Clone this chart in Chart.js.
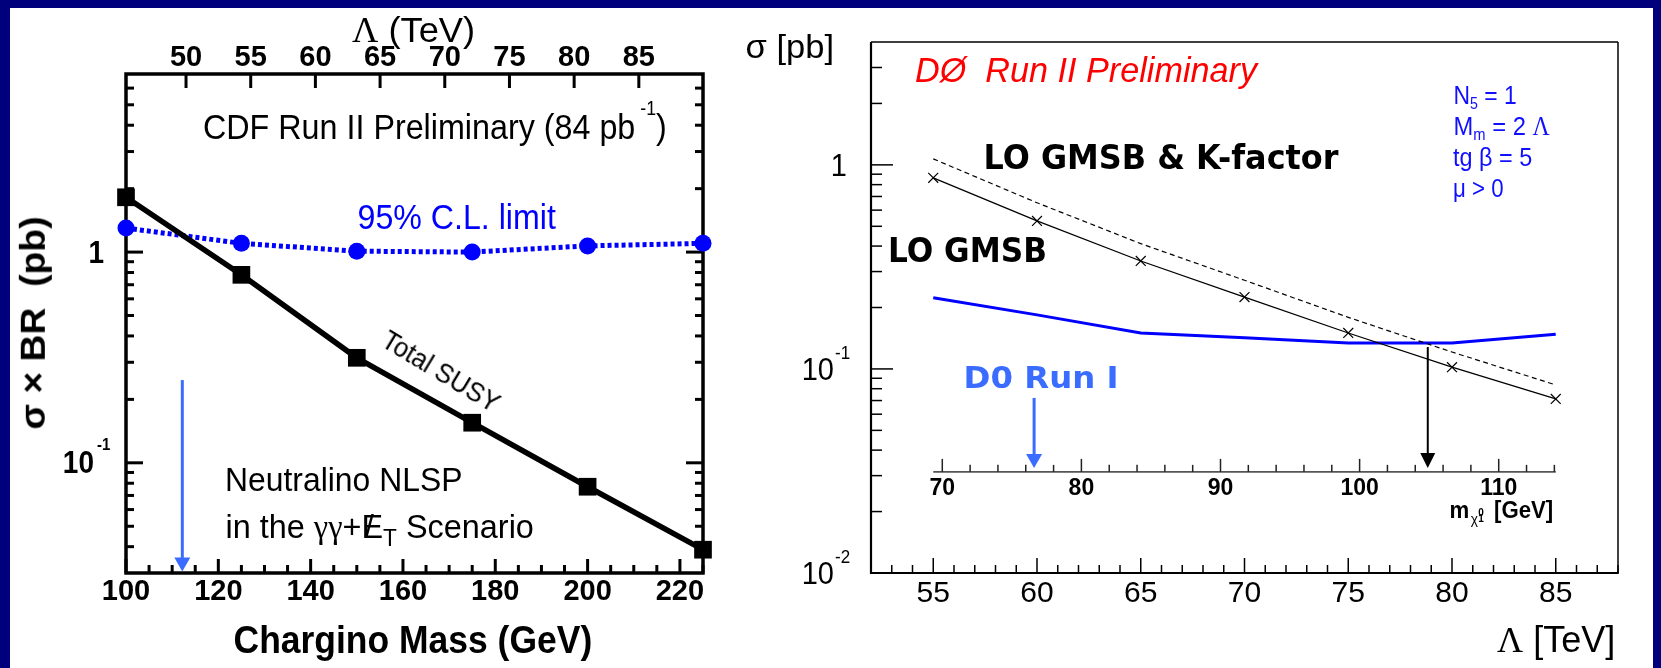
<!DOCTYPE html>
<html><head><meta charset="utf-8">
<script src="https://cdn.jsdelivr.net/npm/chart.js@4.4.1/dist/chart.umd.min.js"></script>
<style>
html,body{margin:0;padding:0;}
body{width:1661px;height:668px;background:#00007c;position:relative;overflow:hidden;font-family:"Liberation Sans",Arial,sans-serif;}
#panel{position:absolute;left:10px;top:8px;width:1643px;height:660px;background:#fff;}
canvas{position:absolute;}
#cL{left:10px;top:8px;}
#cR{left:720px;top:8px;}
.t{position:absolute;white-space:nowrap;line-height:1;transform-origin:50% 50%;}
.sup{font-size:0.55em;position:relative;top:-0.9em;}
.sub{font-size:0.62em;position:relative;top:0.35em;}
.serif{font-family:"Liberation Serif","Times New Roman",serif;}
</style></head>
<body>
<div id="panel"></div>
<canvas id="cL" width="710" height="660"></canvas>
<canvas id="cR" width="933" height="660"></canvas>
<div id="labels"></div>
<script>
// ================= DATA =================
// ---- CDF panel (left) ----
const cdfMass        = [100, 125, 150, 175, 200, 225];            // chargino mass (GeV)
const cdfTotalSusy   = [1.82, 0.78, 0.315, 0.155, 0.077, 0.0387]; // sigma x BR (pb)
const cdfLimit95     = [1.30, 1.10, 1.01, 1.00, 1.07, 1.10];      // 95% C.L. limit (pb)
const cdfMassTicks   = [100, 120, 140, 160, 180, 200, 220];
const cdfLambdaTicks = [50, 55, 60, 65, 70, 75, 80, 85];
const cdfYTicks      = [1, 0.1];
const cdfMassRange   = [100, 225];
const cdfLambdaRange = [45.36, 89.96];   // Lambda (TeV) at the ends of the mass range
const cdfSigmaRange  = [0.03, 7];
const cdfRun1Arrow   = [112.2, 0.247, 0.0305]; // chargino mass, sigma from, sigma to

// ---- D0 panel (right) ----
const d0Lambda       = [55, 60, 65, 70, 75, 80, 85];               // Lambda (TeV)
const d0LoGmsb       = [0.864, 0.531, 0.338, 0.225, 0.150, 0.102, 0.0713];
const d0LoGmsbK      = [1.07, 0.652, 0.411, 0.272, 0.179, 0.121, 0.0835];
const d0Run1Limit    = [0.223, 0.184, 0.150, 0.142, 0.134, 0.134, 0.148];
const d0LambdaTicks  = [55, 60, 65, 70, 75, 80, 85];
const d0MassTicks    = [70, 80, 90, 100, 110];
const d0YTicks       = [1, 0.1, 0.01];
const d0LambdaRange  = [52, 88];
const d0SigmaRange   = [0.01, 4];
const d0MassAxisLambda = [55, 85];      // inner neutralino-mass axis spans these Lambda values
const d0MassAxisMass   = [69.35, 114.1]; // neutralino mass (GeV) at those Lambda values
const d0MassAxisSigma  = 0.0313;         // sigma level where the inner axis sits
const d0Run1Arrow    = [76.6, 0.0721, 0.0327];  // neutralino mass, sigma from, sigma to
const d0Run2Arrow    = [104.9, 0.128, 0.0327];

// ================= HELPERS =================
const SANS = '"Liberation Sans", Arial, sans-serif';
const pts = (xs, ys) => xs.map((v, i) => ({x: v, y: ys[i]}));
function logMinorValues(min, max) {
  const out = [];
  for (let e = -4; e <= 2; e++) for (let k = 1; k <= 9; k++) {
    const v = k * Math.pow(10, e);
    if (v > min * 1.0001 && v < max * 0.9999) out.push({v, major: k === 1});
  }
  return out;
}
function hLine(ctx, x1, x2, y) { ctx.beginPath(); ctx.moveTo(x1, y); ctx.lineTo(x2, y); ctx.stroke(); }
function vLine(ctx, x, y1, y2) { ctx.beginPath(); ctx.moveTo(x, y1); ctx.lineTo(x, y2); ctx.stroke(); }
function arrowDown(ctx, x, y1, y2, color, lw, hw, hh) {
  ctx.save();
  ctx.strokeStyle = color; ctx.fillStyle = color; ctx.lineWidth = lw;
  vLine(ctx, x, y1, y2 - hh + 1);
  ctx.beginPath(); ctx.moveTo(x - hw / 2, y2 - hh); ctx.lineTo(x + hw / 2, y2 - hh); ctx.lineTo(x, y2); ctx.closePath(); ctx.fill();
  ctx.restore();
}
function logLabels(ctx, scale, values, o) {
  ctx.save(); ctx.fillStyle = '#000'; ctx.textBaseline = 'middle';
  values.forEach(v => {
    const py = scale.getPixelForValue(v);
    const e = Math.round(Math.log10(v));
    ctx.save(); ctx.translate(0, py + o.dy); ctx.scale(1, o.sy || 1);
    if (e === 0) {
      ctx.font = o.font; ctx.textAlign = 'right'; ctx.fillText('1', o.x1, 0);
    } else {
      ctx.font = o.font; ctx.textAlign = 'right'; ctx.fillText('10', o.x10, 0);
      ctx.font = o.supFont; ctx.textAlign = 'left'; ctx.fillText(String(e), o.xs, (o.sdy - o.dy) / (o.sy || 1));
    }
    ctx.restore();
  });
  ctx.restore();
}

// ================= LEFT CHART (CDF) =================
const cdfPlugin = {
  id: 'cdfFrame',
  beforeDatasetsDraw(chart) {
    const {ctx, chartArea: a, scales: {x, x2, y}} = chart;
    ctx.save(); ctx.strokeStyle = '#000'; ctx.lineWidth = 3;
    for (let m = cdfMassRange[0]; m <= cdfMassRange[1]; m += 5) {
      const len = cdfMassTicks.includes(m) ? 14 : 8;
      vLine(ctx, x.getPixelForValue(m), a.bottom, a.bottom - len);
    }
    cdfLambdaTicks.forEach(l => vLine(ctx, x2.getPixelForValue(l), a.top, a.top + 14));
    logMinorValues(cdfSigmaRange[0], cdfSigmaRange[1]).forEach(({v, major}) => {
      const py = y.getPixelForValue(v), len = major ? 17 : 8;
      hLine(ctx, a.left, a.left + len, py);
      hLine(ctx, a.right, a.right - len, py);
    });
    ctx.lineWidth = 3.5;
    ctx.strokeRect(a.left, a.top, a.right - a.left, a.bottom - a.top);
    ctx.restore();
    logLabels(ctx, y, cdfYTicks, {font: 'bold 28px ' + SANS, supFont: 'bold 15px ' + SANS, x1: 94, x10: 84, xs: 87, dy: 2, sdy: -17, sy: 1.12});
  },
  afterDatasetsDraw(chart) {
    const {ctx, scales: {x, y}} = chart;
    arrowDown(ctx, x.getPixelForValue(cdfRun1Arrow[0]), y.getPixelForValue(cdfRun1Arrow[1]), y.getPixelForValue(cdfRun1Arrow[2]), '#3a6cff', 3, 16, 14);
  }
};

new Chart(document.getElementById('cL'), {
  type: 'line',
  data: { datasets: [
    { label: 'Total SUSY', data: pts(cdfMass, cdfTotalSusy), xAxisID: 'x', yAxisID: 'y',
      borderColor: '#000', backgroundColor: '#000', borderWidth: 5.5, tension: 0,
      pointStyle: 'rect', pointRadius: 12.5, pointBorderWidth: 0, pointBackgroundColor: '#000', clip: false },
    { label: '95% C.L. limit', data: pts(cdfMass, cdfLimit95), xAxisID: 'x', yAxisID: 'y',
      borderColor: '#0000ff', backgroundColor: '#0000ff', borderWidth: 5, borderDash: [4, 3], tension: 0,
      pointStyle: 'circle', pointRadius: 8.5, pointBorderWidth: 0, pointBackgroundColor: '#0000ff', clip: false }
  ]},
  options: {
    responsive: false, animation: false, devicePixelRatio: 1, events: [],
    layout: { padding: { left: 0, right: 17, top: 0, bottom: 0 } },
    plugins: { legend: { display: false }, tooltip: { enabled: false }, title: { display: false } },
    scales: {
      x: { type: 'linear', position: 'bottom', min: cdfMassRange[0], max: cdfMassRange[1], bounds: 'data',
           afterBuildTicks: s => { s.ticks = cdfMassTicks.map(v => ({value: v})); },
           afterFit: s => { s.height = 95; },
           ticks: { autoSkip: false, maxRotation: 0, color: '#000', padding: 4, font: { family: SANS, size: 29, weight: 'bold', lineHeight: 1 } },
           grid: { display: false, drawTicks: false }, border: { display: false } },
      x2: { type: 'linear', axis: 'x', position: 'top', min: cdfLambdaRange[0], max: cdfLambdaRange[1], bounds: 'data',
           afterBuildTicks: s => { s.ticks = cdfLambdaTicks.map(v => ({value: v})); },
           afterFit: s => { s.height = 66; },
           ticks: { autoSkip: false, maxRotation: 0, color: '#000', padding: 2, font: { family: SANS, size: 29, weight: 'bold', lineHeight: 1 } },
           grid: { display: false, drawTicks: false }, border: { display: false } },
      y: { type: 'logarithmic', position: 'left', min: cdfSigmaRange[0], max: cdfSigmaRange[1], bounds: 'data',
           afterFit: s => { s.width = 116; },
           ticks: { display: false }, grid: { display: false, drawTicks: false }, border: { display: false } }
    }
  },
  plugins: [cdfPlugin]
});

// ================= RIGHT CHART (D0) =================
const mSlope = (d0MassAxisMass[1] - d0MassAxisMass[0]) / (d0MassAxisLambda[1] - d0MassAxisLambda[0]);
const mMin = d0MassAxisMass[0] - (d0MassAxisLambda[0] - d0LambdaRange[0]) * mSlope;
const mMax = d0MassAxisMass[1] + (d0LambdaRange[1] - d0MassAxisLambda[1]) * mSlope;

const d0Plugin = {
  id: 'd0Frame',
  beforeDatasetsDraw(chart) {
    const {ctx, chartArea: a, scales: {x, xm, y}} = chart;
    ctx.save(); ctx.strokeStyle = '#000'; ctx.lineWidth = 1.5;
    for (let l = Math.ceil(d0LambdaRange[0]); l <= d0LambdaRange[1]; l++) {
      const len = l % 5 === 0 ? 15 : 8;
      vLine(ctx, x.getPixelForValue(l), a.bottom, a.bottom - len);
    }
    logMinorValues(d0SigmaRange[0], d0SigmaRange[1]).forEach(({v, major}) => {
      hLine(ctx, a.left, a.left + (major ? 22 : 11), y.getPixelForValue(v));
    });
    ctx.lineWidth = 1.5;
    hLine(ctx, a.left, a.right, a.top);
    vLine(ctx, a.right, a.top, a.bottom);
    ctx.lineWidth = 2.2;
    vLine(ctx, a.left, a.top, a.bottom + 1);
    hLine(ctx, a.left - 1, a.right + 0.75, a.bottom);
    // inner neutralino-mass axis
    const ym = y.getPixelForValue(d0MassAxisSigma);
    ctx.strokeStyle = '#555'; ctx.lineWidth = 1.6;
    hLine(ctx, xm.getPixelForValue(d0MassAxisMass[0]), xm.getPixelForValue(d0MassAxisMass[1]), ym);
    ctx.strokeStyle = '#222'; ctx.lineWidth = 1.5;
    for (let m = d0MassTicks[0]; m <= d0MassAxisMass[1]; m += 2) {
      vLine(ctx, xm.getPixelForValue(m), ym, ym - (m % 10 === 0 ? 13 : 7));
    }
    ctx.restore();
    logLabels(ctx, y, d0YTicks, {font: '29px ' + SANS, supFont: '17px ' + SANS, x1: 127, x10: 114, xs: 115, dy: 2, sdy: -15, sy: 1.1});
  },
  afterDatasetsDraw(chart) {
    const {ctx, scales: {xm, y}} = chart;
    arrowDown(ctx, xm.getPixelForValue(d0Run1Arrow[0]), y.getPixelForValue(d0Run1Arrow[1]), y.getPixelForValue(d0Run1Arrow[2]), '#3a6cff', 3, 16, 14);
    arrowDown(ctx, xm.getPixelForValue(d0Run2Arrow[0]), y.getPixelForValue(d0Run2Arrow[1]), y.getPixelForValue(d0Run2Arrow[2]), '#000', 2, 15, 15);
  }
};

new Chart(document.getElementById('cR'), {
  type: 'line',
  data: { datasets: [
    { label: 'LO GMSB', data: pts(d0Lambda, d0LoGmsb), xAxisID: 'x', yAxisID: 'y',
      borderColor: '#000', borderWidth: 1.3, tension: 0,
      pointStyle: 'crossRot', pointRadius: 7, pointBorderWidth: 1.2, pointBorderColor: '#000', clip: false },
    { label: 'LO GMSB & K-factor', data: pts(d0Lambda, d0LoGmsbK), xAxisID: 'x', yAxisID: 'y',
      borderColor: '#000', borderWidth: 1.2, borderDash: [5, 3.5], tension: 0, pointRadius: 0 },
    { label: 'D0 Run I', data: pts(d0Lambda, d0Run1Limit), xAxisID: 'x', yAxisID: 'y',
      borderColor: '#0000ff', borderWidth: 3, tension: 0, pointRadius: 0 }
  ]},
  options: {
    responsive: false, animation: false, devicePixelRatio: 1, events: [],
    layout: { padding: { left: 0, right: 35, top: 34, bottom: 0 } },
    plugins: { legend: { display: false }, tooltip: { enabled: false }, title: { display: false } },
    scales: {
      x: { type: 'linear', position: 'bottom', min: d0LambdaRange[0], max: d0LambdaRange[1], bounds: 'data',
           afterBuildTicks: s => { s.ticks = d0LambdaTicks.map(v => ({value: v})); },
           afterFit: s => { s.height = 95; },
           ticks: { autoSkip: false, maxRotation: 0, color: '#000', padding: 6, font: { family: SANS, size: 30, lineHeight: 1 } },
           grid: { display: false, drawTicks: false }, border: { display: false } },
      xm: { type: 'linear', axis: 'x', position: { y: d0MassAxisSigma }, min: mMin, max: mMax, bounds: 'data',
           afterBuildTicks: s => { s.ticks = d0MassTicks.map(v => ({value: v})); },
           ticks: { autoSkip: false, maxRotation: 0, color: '#000', padding: 5.5, font: { family: SANS, size: 23, weight: 'bold', lineHeight: 1 } },
           grid: { display: false, drawTicks: false }, border: { display: false } },
      y: { type: 'logarithmic', position: 'left', min: d0SigmaRange[0], max: d0SigmaRange[1], bounds: 'data',
           afterFit: s => { s.width = 151; },
           ticks: { display: false }, grid: { display: false, drawTicks: false }, border: { display: false } }
    }
  },
  plugins: [d0Plugin]
});

// ================= TEXT LABELS =================
const layer = document.getElementById('labels');
function txt(html, o) {
  const d = document.createElement('div');
  d.className = 't';
  d.innerHTML = html;
  d.style.font = o.font;
  d.style.color = o.color || '#000';
  layer.appendChild(d);
  const w = d.offsetWidth, h = d.offsetHeight;
  const sx = o.w ? o.w / w : 1;
  const sy = o.sy || 1.1;
  const cx = (o.cx !== undefined) ? o.cx : o.left + o.w / 2;
  d.style.left = (cx - w / 2) + 'px';
  d.style.top = (o.cy - h / 2) + 'px';
  d.style.transform = 'rotate(' + (o.rot || 0) + 'deg) scale(' + sx + ',' + sy + ')';
}
const F = (s, w, st) => (st || '') + ' ' + (w || '') + ' ' + s + 'px ' + SANS;
const DV = (s) => 'bold ' + s + 'px "DejaVu Sans", Verdana, sans-serif';

// left panel
txt('<span class="serif">Λ</span> (TeV)', {font: F(31), cx: 413, cy: 30, w: 123, sy: 1.15});
txt('CDF Run II Preliminary (84 pb<span class="sup" style="top:-1.25em"> -1</span>)', {font: F(32), left: 203, w: 464, cy: 127});
txt('95% C.L. limit', {font: F(32), color: '#0000ff', cx: 456, cy: 217, w: 198});
txt('Total SUSY', {font: F(25), cx: 441, cy: 371, w: 132, rot: 31});
txt('Neutralino NLSP', {font: F(30), left: 225, w: 237, cy: 480});
txt('in the <span class="serif">γγ</span>+<span style="position:relative">E<span style="position:absolute;left:0.1em;top:0">/</span></span><span class="sub" style="font-size:0.7em">T</span> Scenario', {font: F(30), left: 225, w: 308, cy: 527});
txt('Chargino Mass (GeV)', {font: F(33, 'bold'), cx: 413, cy: 640, w: 359, sy: 1.15});
txt('σ × BR&nbsp;&nbsp;(pb)', {font: F(31, 'bold'), cx: 33, cy: 323, w: 213, rot: -90, sy: 1.15});

// right panel
txt('σ [pb]', {font: F(31), cx: 789, cy: 47, w: 88});
txt('<span class="serif">Λ</span> [TeV]', {font: F(33), cx: 1556, cy: 640, w: 118});
txt('DØ&nbsp; Run II Preliminary', {font: F(32, '', 'italic'), color: '#ff0000', cx: 1086, cy: 70, w: 342});
txt('LO GMSB &amp; K-factor', {font: DV(30), cx: 1160.5, cy: 157, w: 355});
txt('LO GMSB', {font: DV(30), cx: 967.5, cy: 250, w: 159});
txt('D0 Run I', {font: DV(28), color: '#3a6cff', cx: 1040.5, cy: 377, w: 155});
txt('N<span class="sub">5</span> = 1', {font: F(24), color: '#1010ff', left: 1453, w: 63, cy: 95});
txt('M<span class="sub">m</span> = 2 <span class="serif">Λ</span>', {font: F(24), color: '#1010ff', left: 1453, w: 96, cy: 126});
txt('tg β = 5', {font: F(24), color: '#1010ff', left: 1453, w: 79, cy: 157});
txt('μ &gt; 0', {font: F(24), color: '#1010ff', left: 1453, w: 51, cy: 188});
txt('m<span style="position:relative;top:0.45em;font-size:0.62em;font-weight:normal;margin-left:0.1em">χ</span>' +
    '<span style="position:relative;display:inline-block;width:0.45em;height:0.5em">' +
    '<span style="position:absolute;left:0.05em;top:-0.05em;font-size:0.45em">0</span>' +
    '<span style="position:absolute;left:0.05em;top:0.6em;font-size:0.45em">1</span></span> [GeV]',
    {font: F(22, 'bold'), left: 1449, w: 104, cy: 510});
</script>
</body></html>
